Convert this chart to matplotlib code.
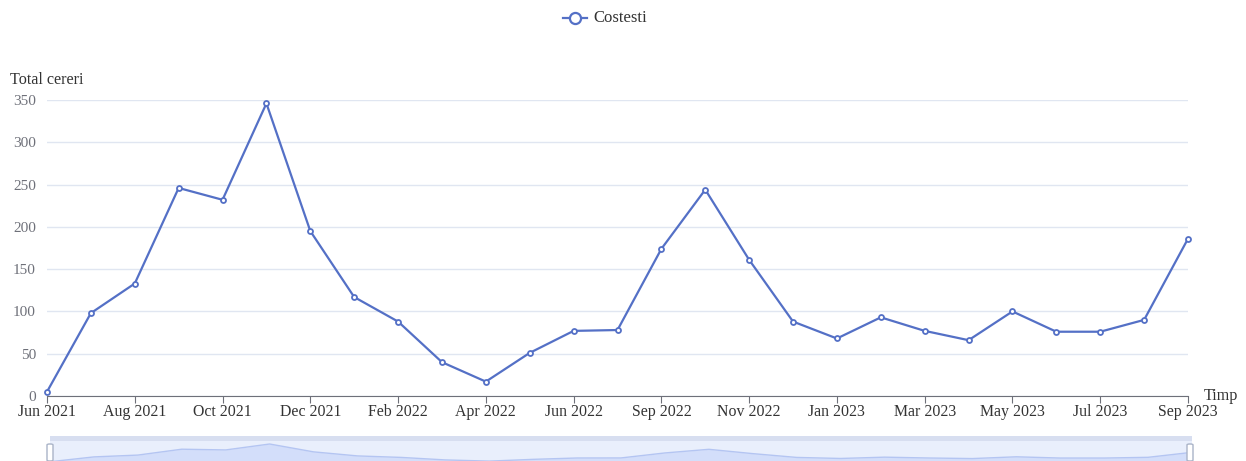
import matplotlib
matplotlib.use("Agg")
import matplotlib.pyplot as plt
from matplotlib.patches import Rectangle, FancyBboxPatch
from matplotlib.lines import Line2D

categories = ["Jun 2021", "Jul 2021", "Aug 2021", "Sep 2021", "Oct 2021", "Nov 2021",
              "Dec 2021", "Jan 2022", "Feb 2022", "Mar 2022", "Apr 2022", "May 2022",
              "Jun 2022", "Jul 2022", "Sep 2022", "Oct 2022", "Nov 2022", "Dec 2022",
              "Jan 2023", "Feb 2023", "Mar 2023", "Apr 2023", "May 2023", "Jun 2023",
              "Jul 2023", "Aug 2023", "Sep 2023"]
costesti = [5, 98, 133, 246, 232, 346, 195, 117, 88, 40, 17, 51, 77, 78, 174, 244, 161,
            88, 68, 93, 77, 66, 100, 76, 76, 90, 186]
y_ticks = [0, 50, 100, 150, 200, 250, 300, 350]
series_name = "Costesti"
y_name = "Total cereri"
x_name = "Timp"

plt.rcParams['font.family'] = ['Liberation Serif', 'DejaVu Serif']

W, H = 1246, 461
fig = plt.figure(figsize=(W / 100, H / 100), dpi=100)

def fx(px):
    return px / W

def fy(py):
    return 1 - py / H

LINE = "#5470c6"
x = list(range(len(categories)))

# main axes: left 47, right 1188, top 100 (350), bottom 396 (0)
ax = fig.add_axes([fx(47), fy(396), fx(1188 - 47), (396 - 100) / H])
ax.plot(x, costesti, color=LINE, lw=1.6, marker='o', ms=3.6, mfc='white',
        mec=LINE, mew=1.3, zorder=3, clip_on=False)
ax.set_xlim(0, len(categories) - 1)
ax.set_ylim(0, 350)
ax.set_yticks(y_ticks)
ax.set_yticklabels([str(v) for v in y_ticks], color="#6e7079", fontsize=11)
ax.tick_params(axis='y', length=0, pad=8)
ax.grid(axis='y', color="#e0e6f1", lw=1)
ax.set_axisbelow(True)
tick_idx = list(range(0, len(categories), 2))
ax.set_xticks(tick_idx)
ax.set_xticklabels([categories[i] for i in tick_idx], color="#333333", fontsize=11.4)
ax.tick_params(axis='x', length=5, color="#6e7079", pad=1)
for s in ['top', 'right', 'left']:
    ax.spines[s].set_visible(False)
ax.spines['bottom'].set_color("#6e7079")

fig.text(fx(10), fy(80), y_name, fontsize=11.6, color="#333333", va='center', ha='left')
fig.text(fx(1204), fy(396), x_name, fontsize=11.6, color="#333333", va='center', ha='left')

# legend
fig.add_artist(Line2D([fx(563), fx(587)], [fy(18), fy(18)], color=LINE, lw=1.6,
                      transform=fig.transFigure))
fig.add_artist(Line2D([fx(575)], [fy(18)], color=LINE, marker='o', ms=8, mfc='white',
                      mec=LINE, mew=1.6, transform=fig.transFigure))
fig.text(fx(593), fy(18), series_name, fontsize=12, color="#333333", va='center', ha='left')

# data zoom slider
sx0, sx1 = 50, 1192
fig.add_artist(Rectangle((fx(sx0), fy(461)), fx(sx1 - sx0), (461 - 436) / H,
                         transform=fig.transFigure, facecolor="#e9effc",
                         edgecolor="none", zorder=1))
fig.add_artist(Rectangle((fx(sx0), fy(441)), fx(sx1 - sx0), 5 / H,
                         transform=fig.transFigure, facecolor="#d7def0",
                         edgecolor="none", zorder=2))
sax = fig.add_axes([fx(sx0), fy(462), fx(sx1 - sx0), 26 / H], zorder=3)
sax.patch.set_visible(False)
sax.fill_between(x, costesti, 0, color="#d3defa", lw=0)
sax.plot(x, costesti, color="#b4c5f2", lw=1)
sax.set_xlim(0, len(categories) - 1)
sax.set_ylim(0, 500)
sax.axis('off')

for hx in (50, 1190):
    fig.add_artist(FancyBboxPatch((fx(hx - 3), fy(461)), fx(6), 17 / H,
                                  boxstyle="round,pad=0,rounding_size=0.002",
                                  transform=fig.transFigure, facecolor="white",
                                  edgecolor="#aab4c8", lw=1, zorder=5))

fig.savefig("out.png", dpi=100, facecolor="white")
